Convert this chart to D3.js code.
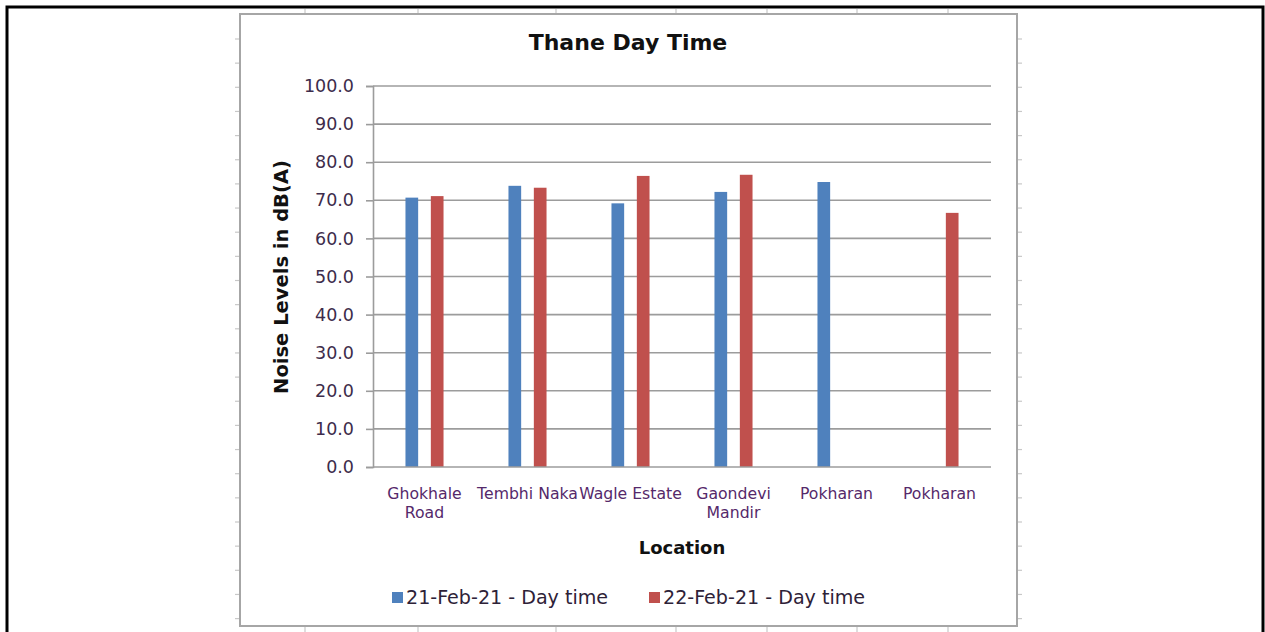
<!DOCTYPE html>
<html>
<head>
<meta charset="utf-8">
<script src="https://cdn.jsdelivr.net/npm/d3@7"></script>
<style>
  html, body { margin: 0; padding: 0; background: #fff; }
  svg { display: block; }
  text { font-family: "DejaVu Sans", Verdana, sans-serif; }
</style>
</head>
<body>
<svg id="chart" width="1265" height="632"></svg>
<script>
// Noise monitoring, Thane, day time readings in dB(A)
const categories = ["Ghokhale Road", "Tembhi Naka", "Wagle Estate", "Gaondevi Mandir", "Pokharan", "Pokharan"];
const categoryLines = [["Ghokhale", "Road"], ["Tembhi Naka"], ["Wagle Estate"], ["Gaondevi", "Mandir"], ["Pokharan"], ["Pokharan"]];
const seriesNames = ["21-Feb-21 - Day time", "22-Feb-21 - Day time"];
const feb21 = [70.7, 73.8, 69.2, 72.2, 74.8, null];
const feb22 = [71.1, 73.3, 76.4, 76.7, null, 66.7];
const yTicks = [0, 10, 20, 30, 40, 50, 60, 70, 80, 90, 100];
const seriesColors = ["#4F81BD", "#C0504D"];

const svg = d3.select("#chart");

// outer page frame
svg.append("rect").attr("x", 7).attr("y", 7).attr("width", 1256).attr("height", 640)
  .attr("fill", "#fff").attr("stroke", "#000").attr("stroke-width", 3);

// sheet cell boundary marks around the chart object
const chartBox = { x0: 240, y0: 14, x1: 1017, y1: 626 };
const rowMarks = d3.range(0, 25).map(i => 39 + i * 24.15).filter(v => v < chartBox.y1);
const colMarks = [305, 418, 556, 676, 767, 857, 948];
const marks = svg.append("g").attr("stroke", "#c8c8c8").attr("stroke-width", 1.2);
rowMarks.forEach(y => {
  marks.append("line").attr("x1", chartBox.x0 - 5).attr("x2", chartBox.x0).attr("y1", y).attr("y2", y);
  marks.append("line").attr("x1", chartBox.x1).attr("x2", chartBox.x1 + 5).attr("y1", y).attr("y2", y);
});
colMarks.forEach(x => {
  marks.append("line").attr("x1", x).attr("x2", x).attr("y1", chartBox.y0 - 5).attr("y2", chartBox.y0);
  marks.append("line").attr("x1", x).attr("x2", x).attr("y1", chartBox.y1).attr("y2", chartBox.y1 + 6);
});

// chart object border
svg.append("rect").attr("x", chartBox.x0).attr("y", chartBox.y0)
  .attr("width", chartBox.x1 - chartBox.x0).attr("height", chartBox.y1 - chartBox.y0)
  .attr("fill", "#fff").attr("stroke", "#a6a6a6").attr("stroke-width", 2);

// plot area
const plot = { left: 373, right: 991, top: 86, bottom: 467 };

const x = d3.scaleBand().domain(d3.range(categories.length)).range([plot.left, plot.right]).padding(0);
const xSub = d3.scaleBand().domain([0, 1]).range([0, x.bandwidth()]).paddingInner(0.5).paddingOuter(1.28);
const y = d3.scaleLinear().domain([0, 100]).range([plot.bottom, plot.top]);

// gridlines
svg.append("g").selectAll("line").data(yTicks.filter(v => v > 0)).join("line")
  .attr("x1", plot.left).attr("x2", plot.right)
  .attr("y1", d => y(d)).attr("y2", d => y(d))
  .attr("stroke", "#9c9c9c").attr("stroke-width", 1.6);

// y axis
const yAxis = svg.append("g").attr("transform", `translate(${plot.left},0)`)
  .call(d3.axisLeft(y).tickValues(yTicks).tickFormat(d3.format(".1f")).tickSize(7).tickPadding(12));
yAxis.select(".domain").attr("stroke", "#9c9c9c").attr("stroke-width", 1.6);
yAxis.selectAll(".tick line").attr("stroke", "#9c9c9c").attr("stroke-width", 1.6);
yAxis.selectAll(".tick text").attr("fill", "#3d2c4b").style("font-size", "17.5px")
  .style("font-family", "'DejaVu Sans', Verdana, sans-serif");

// bars
const rows = categories.map((c, i) => ({ i, values: [feb21[i], feb22[i]] }));
const groups = svg.append("g").selectAll("g").data(rows).join("g")
  .attr("transform", d => `translate(${x(d.i)},0)`);
groups.selectAll("rect")
  .data(d => d.values.map((v, s) => ({ s, v })).filter(e => e.v != null))
  .join("rect")
  .attr("x", d => xSub(d.s))
  .attr("width", xSub.bandwidth())
  .attr("y", d => y(d.v))
  .attr("height", d => y(0) - y(d.v))
  .attr("fill", d => seriesColors[d.s]);

// x axis line
svg.append("line").attr("x1", plot.left).attr("x2", plot.right)
  .attr("y1", y(0)).attr("y2", y(0)).attr("stroke", "#9c9c9c").attr("stroke-width", 1.6);

// category labels
const xl = svg.append("g");
categoryLines.forEach((lines, i) => {
  const t = xl.append("text").attr("text-anchor", "middle")
    .attr("fill", "#55296a").style("font-size", "15.7px");
  lines.forEach((ln, k) => {
    t.append("tspan").attr("x", x(i) + x.bandwidth() / 2).attr("y", 499 + k * 18.5).text(ln);
  });
});

// titles
svg.append("text").attr("x", 628).attr("y", 50).attr("text-anchor", "middle")
  .style("font-size", "22px").style("font-weight", "bold").attr("fill", "#111")
  .text("Thane Day Time");
svg.append("text").attr("x", 682).attr("y", 554).attr("text-anchor", "middle")
  .style("font-size", "18px").style("font-weight", "bold").attr("fill", "#111")
  .text("Location");
svg.append("text").attr("transform", "translate(288,277) rotate(-90)").attr("text-anchor", "middle")
  .style("font-size", "19.5px").style("font-weight", "bold").attr("fill", "#111")
  .text("Noise Levels in dB(A)");

// legend
const legendX = [392, 649];
const legend = svg.append("g");
seriesNames.forEach((name, s) => {
  legend.append("rect").attr("x", legendX[s]).attr("y", 592).attr("width", 11).attr("height", 11)
    .attr("fill", seriesColors[s]);
  legend.append("text").attr("x", legendX[s] + 14).attr("y", 604)
    .style("font-size", "19.1px").attr("fill", "#2e2238").text(name);
});
</script>
</body>
</html>
